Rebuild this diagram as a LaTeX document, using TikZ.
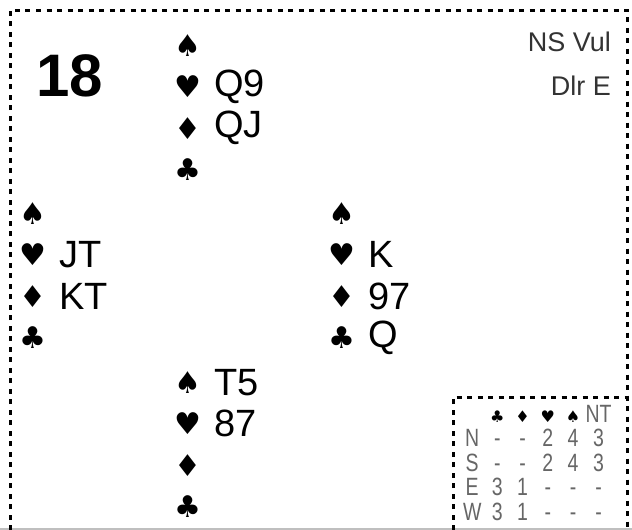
\documentclass[tikz,border=0pt]{standalone}
\usepackage{fontspec}
\setmainfont{Liberation Sans}
\newfontfamily\suitfont{DejaVu Sans}
\newfontfamily\narrowfont[FakeStretch=0.78]{Liberation Sans}
\usetikzlibrary{matrix}

\begin{document}
\begin{tikzpicture}[x=1pt, y=-1pt,
    hand/.style={
        matrix of nodes,
        anchor=north west,
        inner sep=0pt,
        nodes={
           minimum height=41.5pt,
           inner sep=0pt,
           outer sep=0pt,
           anchor=west,
           font=\fontsize{38}{38}\selectfont
        },
        column 1/.style={
            nodes={anchor=center, minimum width=26pt,
                   font=\suitfont\fontsize{30}{30}\selectfont}
        },
        column sep=13pt, row sep=0pt,
        nodes in empty cells
    },
    frame/.style={line width=3pt, dash pattern=on 5pt off 5.5pt}
  ]
  \useasboundingbox (0,0) rectangle (632,530);
  \draw [black!25, line width=1.5pt] (0,529) -- (632,529);
  \draw [frame] (10,530) -- (10,10) -- (627,10) -- (627,530);
  \draw [frame] (453,530) -- (453,397) -- (627,397);

  \node (board) at (70,76) {\fontsize{60}{60}\selectfont\bfseries 18};
  \node (vul) [anchor=east, inner sep=0pt, text=black!80] at (611,42) {\fontsize{27}{27}\selectfont NS Vul};
  \node (dlr) [anchor=east, inner sep=0pt, text=black!80] at (611,86) {\fontsize{27}{27}\selectfont Dlr E};

  % hands
  \matrix (N) [hand] at (174,24.25) {
    ♠ & \\
    ♥ & Q9 \\
    ♦ & QJ \\
    ♣ & \\
  };
  \matrix (W) [hand] at (19,192.25) {
    ♠ & \\
    ♥ & JT \\
    ♦ & KT \\
    ♣ & \\
  };
  \matrix (E) [hand] at (328,192.25) {
    ♠ & \\
    ♥ & K \\
    ♦ & 97 \\
    ♣ & Q \\
  };
  \matrix (S) [hand] at (174,361.25) {
    ♠ & T5 \\
    ♥ & 87 \\
    ♦ & \\
    ♣ & \\
  };

  % makeable contracts
  \matrix (T) [
      matrix of nodes,
      anchor=north west,
      inner sep=0pt,
      nodes={
         minimum width=25.2pt,
         inner sep=0pt,
         text height=21.25pt,
         text depth=3.25pt,
         text=black!60,
         font=\narrowfont\fontsize{25}{25}\selectfont
      },
      row sep=0pt, column sep=0pt,
      nodes in empty cells,
      s/.style={text=black, font=\suitfont\fontsize{16}{16}\selectfont}
    ] at (459.4,400.75)
    {
      & |[s]| ♣ & |[s]| ♦ & |[s]| ♥ & |[s]| ♠ & NT \\
      N & - & - & 2 & 4 & 3 \\
      S & - & - & 2 & 4 & 3 \\
      E & 3 & 1 & - & - & - \\
      W & 3 & 1 & - & - & - \\
    };
\end{tikzpicture}
\end{document}
